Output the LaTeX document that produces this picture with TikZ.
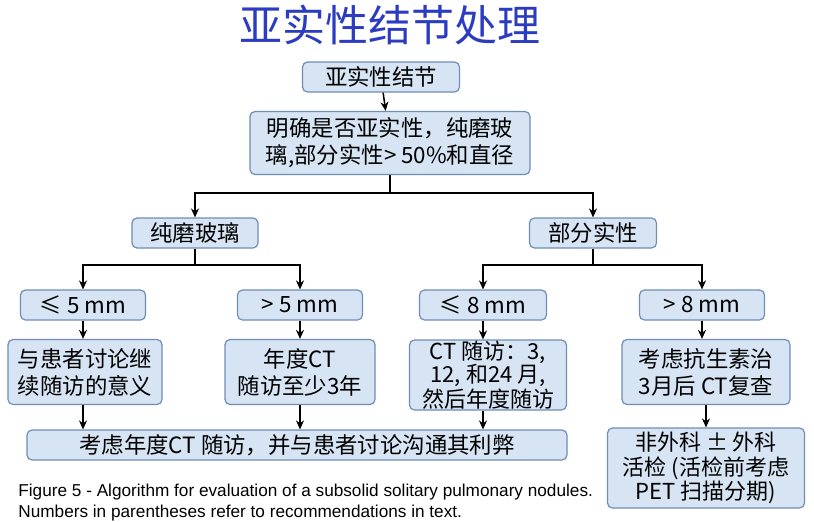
\documentclass[tikz,border=0pt]{standalone}
\usepackage{fontspec}
\setmainfont{Noto Sans CJK SC}
\newfontfamily\capfont{Liberation Sans}
\usetikzlibrary{arrows.meta}
\definecolor{boxfill}{HTML}{D6E4F4}
\definecolor{boxline}{HTML}{6F8DB7}
\definecolor{titleblue}{HTML}{2B3CC0}
\begin{document}
\begin{tikzpicture}[x=0.5pt,y=-0.5pt,
  bx/.style={draw=boxline,line width=0.6pt,fill=boxfill,rounded corners=2.5pt,align=center,font=\fontsize{11.2}{13.5}\selectfont,inner sep=0pt},
  ar/.style={-{Stealth[length=4.5pt,width=4pt]},line width=0.75pt}]
\useasboundingbox (0,0) rectangle (814,521);
\node[text=titleblue,font=\fontsize{21.5}{24}\selectfont] (t) at (390,25) {亚实性结节处理};
\node[bx,minimum width=78.5pt,minimum height=15pt] (a) at (381,77) {亚实性结节};
\node[bx,minimum width=140pt,minimum height=31.5pt] (b) at (390,143) {明确是否亚实性，纯磨玻\\璃,部分实性> 50\%和直径};
\node[bx,minimum width=63pt,minimum height=15pt] (c) at (195,233) {纯磨玻璃};
\node[bx,minimum width=63.5pt,minimum height=15pt] (d) at (593,233) {部分实性};
\node[bx,minimum width=62.5pt,minimum height=15pt] (e1) at (83,305) {≤ 5 mm};
\node[bx,minimum width=62.5pt,minimum height=15pt] (e2) at (300,305) {> 5 mm};
\node[bx,minimum width=63.5pt,minimum height=15pt] (e3) at (483,305) {≤ 8 mm};
\node[bx,minimum width=62.5pt,minimum height=15pt] (e4) at (702,305) {> 8 mm};
\node[bx,minimum width=77pt,minimum height=32.5pt] (f1) at (85,372) {与患者讨论继\\续随访的意义};
\node[bx,minimum width=75pt,minimum height=32.5pt] (f2) at (300,372) {年度CT\\随访至少3年};
\node[bx,minimum width=78.5pt,minimum height=35pt,font=\fontsize{11}{11.4}\selectfont] (f3) at (488,375) {CT 随访：3,\\12, 和24 月,\\然后年度随访};
\node[bx,minimum width=84pt,minimum height=32.5pt] (f4) at (706,372) {考虑抗生素治\\3月后 CT复查};
\node[bx,minimum width=270pt,minimum height=15pt] (g) at (297,445) {考虑年度CT 随访，并与患者讨论沟通其利弊};
\node[bx,minimum width=98.5pt,minimum height=40pt,font=\fontsize{11}{12.4}\selectfont] (h) at (706,468) {非外科 ± 外科\\活检 (活检前考虑\\PET 扫描分期)};
\node[anchor=north west,align=left,font=\capfont\fontsize{8.6}{10.3}\selectfont,inner sep=0pt] (cap) at (18,484) {Figure 5 - Algorithm for evaluation of a subsolid solitary pulmonary nodules.\\Numbers in parentheses refer to recommendations in text.};
\draw[ar] (a) -- (b);
\coordinate (j1) at (390,193);
\coordinate (j2) at (195,265);
\coordinate (j3) at (593,265);
\draw[line width=0.75pt] (b.south) -- (j1);
\draw[ar] (j1) -| (c.north);
\draw[ar] (j1) -| (d.north);
\draw[line width=0.75pt] (c.south) -- (j2);
\draw[ar] (j2) -| (e1.north);
\draw[ar] (j2) -| (e2.north);
\draw[line width=0.75pt] (d.south) -- (j3);
\draw[ar] (j3) -| (e3.north);
\draw[ar] (j3) -| (e4.north);
\draw[ar] (e1) -- (f1.north-|e1);
\draw[ar] (e2) -- (f2);
\draw[ar] (e3) -- (f3.north-|e3);
\draw[ar] (e4) -- (f4.north-|e4);
\draw[ar] (f1.south-|e1) -- (g.north-|e1);
\draw[ar] (f2) -- (g.north-|f2);
\draw[ar] (f3.south-|e3) -- (g.north-|e3);
\draw[ar] (f4) -- (h);
\end{tikzpicture}
\end{document}
